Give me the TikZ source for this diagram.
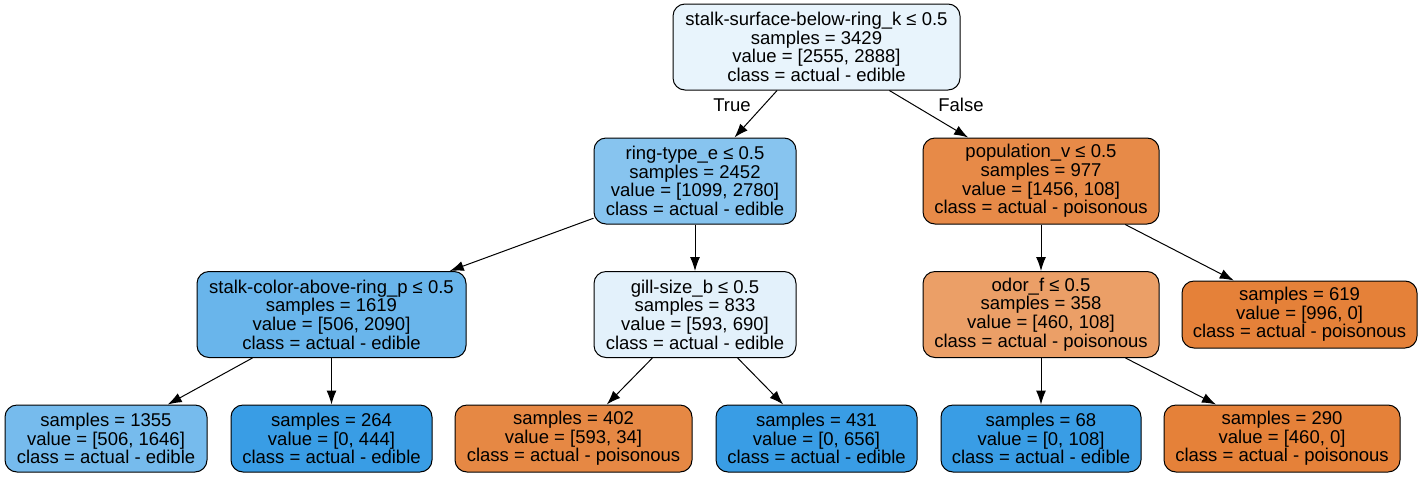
\documentclass[tikz,border=0pt]{standalone}
\usepackage{fontspec}
\setmainfont{Liberation Sans}
\usepackage{tikz}
\usetikzlibrary{arrows.meta}
\definecolor{rootfill}{HTML}{E8F4FC}
\definecolor{ringfill}{HTML}{87C4EF}
\definecolor{popfill}{HTML}{E78A48}
\definecolor{stalkfill}{HTML}{69B5EB}
\definecolor{gillfill}{HTML}{E3F1FB}
\definecolor{odorfill}{HTML}{EB9F67}
\definecolor{edibleblue}{HTML}{399DE5}
\definecolor{poisonorange}{HTML}{E58139}
\definecolor{paleblue}{HTML}{76BBED}
\definecolor{nearorange}{HTML}{E68844}
\tikzset{
  treefont/.style={font=\fontsize{18.5pt}{18.67pt}\selectfont},
  splitnode/.style={treefont, draw=black, line width=1pt, rounded corners=12pt, align=center, inner sep=0pt, minimum height=86pt},
  leafnode/.style={splitnode, minimum height=67pt},
  edgearrow/.style={-{Latex[length=14pt,width=10pt]}, line width=1pt}
}

\begin{document}
\begin{tikzpicture}[x=1pt, y=-1pt]
\useasboundingbox (0,0) rectangle (1426,477);
% splits
\node[splitnode, fill=rootfill, minimum width=287pt] (root) at (816.5,47) {stalk-surface-below-ring\_k ≤ 0.5\\samples = 3429\\value = [2555, 2888]\\class = actual - edible};
\node[splitnode, fill=ringfill, minimum width=202pt] (ringtype) at (695,181) {ring-type\_e ≤ 0.5\\samples = 2452\\value = [1099, 2780]\\class = actual - edible};
\node[splitnode, fill=popfill, minimum width=236pt] (population) at (1041,181) {population\_v ≤ 0.5\\samples = 977\\value = [1456, 108]\\class = actual - poisonous};
\node[splitnode, fill=stalkfill, minimum width=269pt] (stalkcolor) at (331.5,314.5) {stalk-color-above-ring\_p ≤ 0.5\\samples = 1619\\value = [506, 2090]\\class = actual - edible};
\node[splitnode, fill=gillfill, minimum width=202pt] (gillsize) at (695,314.5) {gill-size\_b ≤ 0.5\\samples = 833\\value = [593, 690]\\class = actual - edible};
\node[splitnode, fill=odorfill, minimum width=236pt] (odorf) at (1041,314.5) {odor\_f ≤ 0.5\\samples = 358\\value = [460, 108]\\class = actual - poisonous};
% leaves
\node[leafnode, fill=poisonorange, minimum width=235pt] (leaf619) at (1299.5,314.5) {samples = 619\\value = [996, 0]\\class = actual - poisonous};
\node[leafnode, fill=paleblue, minimum width=202pt] (leaf1355) at (106,438.5) {samples = 1355\\value = [506, 1646]\\class = actual - edible};
\node[leafnode, fill=edibleblue, minimum width=201pt] (leaf264) at (331.5,438.5) {samples = 264\\value = [0, 444]\\class = actual - edible};
\node[leafnode, fill=nearorange, minimum width=237pt] (leaf402) at (573.5,438.5) {samples = 402\\value = [593, 34]\\class = actual - poisonous};
\node[leafnode, fill=edibleblue, minimum width=201pt] (leaf431) at (816.5,438.5) {samples = 431\\value = [0, 656]\\class = actual - edible};
\node[leafnode, fill=edibleblue, minimum width=200pt] (leaf68) at (1041,438.5) {samples = 68\\value = [0, 108]\\class = actual - edible};
\node[leafnode, fill=poisonorange, minimum width=236pt] (leaf290) at (1282,438.5) {samples = 290\\value = [460, 0]\\class = actual - poisonous};
% branches
\draw[edgearrow] (root) -- (ringtype);
\draw[edgearrow] (root) -- (population);
\draw[edgearrow] (ringtype) -- (stalkcolor);
\draw[edgearrow] (ringtype) -- (gillsize);
\draw[edgearrow] (population) -- (odorf);
\draw[edgearrow] (population) -- (leaf619);
\draw[edgearrow] (stalkcolor) -- (leaf1355);
\draw[edgearrow] (stalkcolor) -- (leaf264);
\draw[edgearrow] (gillsize) -- (leaf402);
\draw[edgearrow] (gillsize) -- (leaf431);
\draw[edgearrow] (odorf) -- (leaf68);
\draw[edgearrow] (odorf) -- (leaf290);
\node[treefont] (truelabel) at (732,105) {True};
\node[treefont] (falselabel) at (961,105) {False};
\end{tikzpicture}
\end{document}
